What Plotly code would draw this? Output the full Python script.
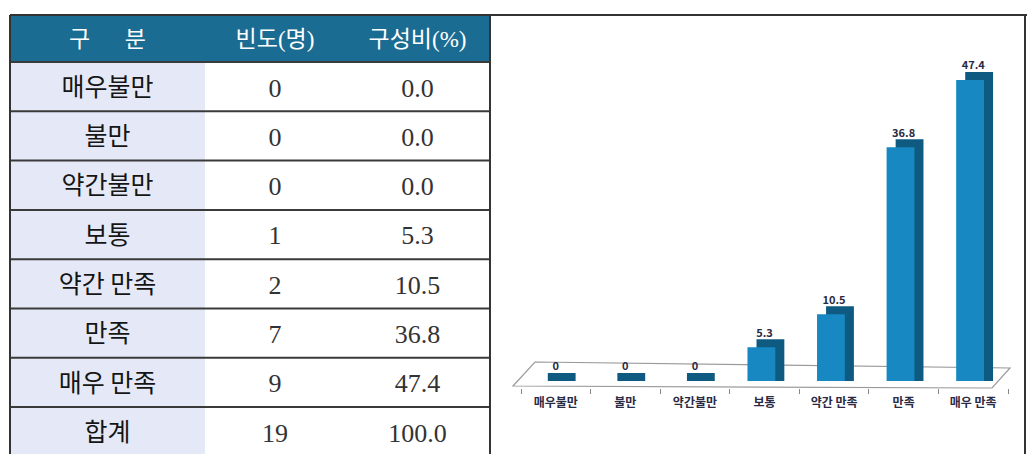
import plotly.graph_objects as go

# ---- data ----
categories = ["매우불만", "불만", "약간불만", "보통", "약간 만족", "만족", "매우 만족"]
chart_labels = ["매우불만", "불만", "약간불만", "보통", "약간 만족", "만족", "매우 만족"]
counts = [0, 0, 0, 1, 2, 7, 9]
percents = [0.0, 0.0, 0.0, 5.3, 10.5, 36.8, 47.4]
total_label = "합계"
total_count = 19
total_percent = 100.0
header_labels = ["구      분", "빈도(명)", "구성비(%)"]

# ---- styling constants ----
W, H = 1027, 454
HEADER_BG = "#1b6c92"
FIRST_COL_BG = "#e5e9f7"
LINE_COL = "#3a3a3a"
FRONT_COL = "#1788c2"
DARK_COL = "#0e5a80"
DEPTH = 1.26          # visual depth of pseudo-3D bars (y units)
TBL_L, TBL_R, TBL_TOP = 10, 490, 15
COL1_R = 205
HEAD_BOTTOM = 62
ROW_H = 49.3
TEXT_TOP = 22         # table trace placed so text sits mid-row

def px(x):
    return x / W

def py(y):
    return 1 - y / H

fig = go.Figure()

# ---- table (text through go.Table, background drawn as layout shapes) ----
col1 = categories + [total_label]
col2 = [str(c) for c in counts] + [str(total_count)]
col3 = [f"{p:.1f}" for p in percents] + [f"{total_percent:.1f}"]
n = len(col1)
clear = "rgba(0,0,0,0)"

fig.add_trace(go.Table(
    domain=dict(x=[px(TBL_L), px(TBL_R)], y=[0, py(TEXT_TOP)]),
    columnwidth=[COL1_R - TBL_L, 140, 145],
    header=dict(
        values=header_labels,
        fill_color=clear,
        line=dict(color=clear, width=0),
        align="center",
        height=47,
        font=dict(family="Liberation Serif, Noto Sans CJK KR", size=23, color="white"),
    ),
    cells=dict(
        values=[col1, col2, col3],
        fill_color=clear,
        line=dict(color=clear, width=0),
        align="center",
        height=ROW_H,
        font=dict(
            family=["Noto Sans CJK KR", "Liberation Serif", "Liberation Serif"],
            size=[25, 26, 26],
            color=["#151515", "#333333", "#333333"],
        ),
    ),
))

# ---- pseudo-3D bar chart ----
depth_vals = [p + DEPTH for p in percents]

fig.add_trace(go.Bar(
    x=chart_labels, y=depth_vals, base=0,
    width=0.4, offset=-0.115,
    marker=dict(color=DARK_COL, line=dict(width=0)),
    hoverinfo="skip", showlegend=False,
))
fig.add_trace(go.Bar(
    x=chart_labels, y=percents,
    width=0.4, offset=-0.245,
    marker=dict(color=FRONT_COL, line=dict(width=0)),
    showlegend=False,
))
fig.add_trace(go.Scatter(
    x=chart_labels, y=depth_vals,
    mode="text",
    text=[("0" if p == 0 else f"{p:.1f}") for p in percents],
    textposition="top center",
    textfont=dict(family="Noto Sans CJK KR", size=11, color="#2a2a45", weight="bold"),
    cliponaxis=False, showlegend=False, hoverinfo="skip",
))

# ---- shapes: table background, grid lines, frames, floor ----
shapes = [
    dict(type="rect", xref="paper", yref="paper",
         x0=px(TBL_L), x1=px(TBL_R), y0=py(HEAD_BOTTOM), y1=py(TBL_TOP),
         fillcolor=HEADER_BG, line=dict(width=0), layer="below"),
    dict(type="rect", xref="paper", yref="paper",
         x0=px(TBL_L), x1=px(COL1_R), y0=0, y1=py(HEAD_BOTTOM),
         fillcolor=FIRST_COL_BG, line=dict(width=0), layer="below"),
]
for k in range(n):
    yk = HEAD_BOTTOM + k * ROW_H
    shapes.append(dict(type="line", xref="paper", yref="paper",
                       x0=px(TBL_L), x1=px(TBL_R), y0=py(yk), y1=py(yk),
                       line=dict(color=LINE_COL, width=2), layer="below"))
shapes += [
    # table outer frame
    dict(type="line", xref="paper", yref="paper",
         x0=px(TBL_L), x1=px(TBL_L), y0=0, y1=py(TBL_TOP),
         line=dict(color="#333333", width=2)),
    dict(type="line", xref="paper", yref="paper",
         x0=px(TBL_L), x1=px(1027), y0=py(TBL_TOP), y1=py(TBL_TOP),
         line=dict(color="#333333", width=2)),
    # chart frame
    dict(type="rect", xref="paper", yref="paper",
         x0=px(TBL_R), x1=px(1025), y0=py(455), y1=py(TBL_TOP),
         line=dict(color="#333333", width=2), layer="below"),
    # floor plane
    dict(type="path", xref="paper", yref="paper",
         path=(f"M {px(513)} {py(386)} L {px(535)} {py(362)} "
               f"L {px(1010)} {py(368)} L {px(992)} {py(388)} Z"),
         line=dict(color="#9a9a9a", width=1.2),
         fillcolor="rgba(255,255,255,0)", layer="below"),
]

fig.update_layout(
    width=W, height=H,
    margin=dict(l=0, r=0, t=0, b=0),
    paper_bgcolor="white",
    plot_bgcolor="rgba(0,0,0,0)",
    barmode="overlay",
    xaxis=dict(
        domain=[px(521), px(1008)],
        anchor="y",
        showline=False, showgrid=False, zeroline=False,
        ticks="outside", tickson="boundaries", ticklen=5, tickcolor="#888888",
        tickfont=dict(family="Noto Sans CJK KR", size=12, color="#2a2a45", weight="bold"),
        ticklabelstandoff=6,
        fixedrange=True,
    ),
    yaxis=dict(
        domain=[py(388), py(63.5)],
        range=[-1.1, 50],
        visible=False,
        fixedrange=True,
    ),
    shapes=shapes,
)

fig.write_html("out.html", config={"displayModeBar": False},
               post_script="document.body.style.margin='0';")
